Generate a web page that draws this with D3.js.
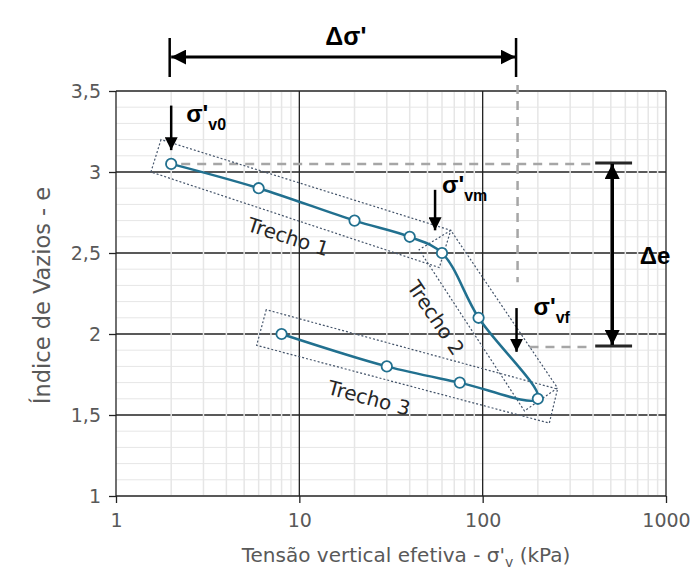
<!DOCTYPE html>
<html>
<head>
<meta charset="utf-8">
<script src="https://cdn.jsdelivr.net/npm/d3@7"></script>
<style>
  body { margin: 0; background: #fff; }
  text { font-family: "DejaVu Sans", Arial, sans-serif; }
  text.bold { font-family: "Liberation Sans", Arial, sans-serif; font-weight: bold; }
</style>
</head>
<body>
<div id="chart"></div>
<script>
// curve: sigma'v (kPa) and void ratio e, in loading / unloading order
var stress    = [2, 6, 20, 40, 60, 95, 200, 75, 30, 8];
var voidRatio = [3.05, 2.9, 2.7, 2.6, 2.5, 2.1, 1.6, 1.7, 1.8, 2.0];

var xTicks = [1, 10, 100, 1000];
var yTicks = [1, 1.5, 2, 2.5, 3, 3.5];

// dotted boxes around each stretch (data coordinates)
var trechoNames = ["Trecho 1", "Trecho 2", "Trecho 3"];
var trechoBoxes = [
  [[1.76, 3.2], [1.55, 3.0], [58, 2.41], [67, 2.64]],
  [[67, 2.64], [45, 2.52], [169, 1.525], [256, 1.667]],
  [[6.6, 2.15], [5.85, 1.93], [231, 1.45], [256, 1.66]]
];
var trechoCenters = [[8.7, 2.6], [55.5, 2.1], [24, 1.605]];
var trechoAngles = [18, 56, 15];

// key stresses / void ratios
var sigmaV0 = 2, sigmaVm = 55, sigmaVf = 153;
var eTop = 3.05, eBottom = 1.92;

var width = 699, height = 574;
var margin = {top: 91, right: 33, bottom: 78, left: 116};

var svg = d3.select("#chart").append("svg")
  .attr("width", width)
  .attr("height", height);

var x = d3.scaleLog().domain([1, 1000]).range([margin.left, width - margin.right]);
var y = d3.scaleLinear().domain([1, 3.5]).range([height - margin.bottom, margin.top]);

var defs = svg.append("defs");
function addMarker(id, size) {
  defs.append("marker")
    .attr("id", id)
    .attr("viewBox", "0 0 10 10")
    .attr("refX", 10).attr("refY", 5)
    .attr("markerUnits", "userSpaceOnUse")
    .attr("markerWidth", size).attr("markerHeight", size)
    .attr("orient", "auto-start-reverse")
    .append("path")
    .attr("d", "M0,0L10,5L0,10z")
    .attr("fill", "#000");
}
addMarker("headS", 13);
addMarker("headL", 15);

/* grid */
var minorX = [];
[1, 10, 100].forEach(function(d) {
  for (var k = 2; k <= 9; k++) minorX.push(d * k);
});
var minorY = d3.range(1.1, 3.5, 0.1).filter(function(v) {
  return Math.abs(v * 2 - Math.round(v * 2)) > 0.01;
});

var grid = svg.append("g");
grid.selectAll(".hmin").data(minorY).enter().append("line")
  .attr("x1", x(1)).attr("x2", x(1000))
  .attr("y1", d => y(d)).attr("y2", d => y(d))
  .attr("stroke", "#e6e6e6").attr("stroke-width", 1);
grid.selectAll(".hmaj").data(yTicks).enter().append("line")
  .attr("x1", x(1)).attr("x2", x(1000))
  .attr("y1", d => y(d)).attr("y2", d => y(d))
  .attr("stroke", "#222").attr("stroke-width", 1.3);
grid.selectAll(".vmin").data(minorX).enter().append("line")
  .attr("x1", d => x(d)).attr("x2", d => x(d))
  .attr("y1", y(1) - 1).attr("y2", y(3.5) + 1)
  .attr("stroke", "#e6e6e6").attr("stroke-width", 1.5);
grid.selectAll(".vmaj").data(xTicks).enter().append("line")
  .attr("x1", d => x(d)).attr("x2", d => x(d))
  .attr("y1", y(1)).attr("y2", y(3.5))
  .attr("stroke", "#222").attr("stroke-width", 1.3);

/* axes */
var xAxis = d3.axisBottom(x).tickValues(xTicks).tickFormat(d3.format("d")).tickSize(7).tickPadding(11);
var yAxis = d3.axisLeft(y).tickValues(yTicks)
  .tickFormat(d => String(d).replace(".", ",")).tickSize(7).tickPadding(8);

var gx = svg.append("g").attr("transform", `translate(0, ${y(1)})`).call(xAxis);
var gy = svg.append("g").attr("transform", `translate(${x(1)}, 0)`).call(yAxis);
[gx, gy].forEach(function(g) {
  g.select(".domain").remove();
  g.selectAll(".tick line").attr("stroke", "#222").attr("stroke-width", 1.3);
  g.selectAll(".tick text")
    .attr("fill", "#595959")
    .style("font-family", "'DejaVu Sans', sans-serif")
    .style("font-size", "19px");
});

svg.append("text")
  .attr("transform", `translate(42, ${(y(1) + y(3.5)) / 2 + 2}) rotate(-90)`)
  .attr("text-anchor", "middle")
  .attr("dominant-baseline", "central")
  .attr("fill", "#595959")
  .style("font-size", "22.5px")
  .text("Índice de Vazios - e");

var xt = svg.append("text")
  .attr("x", (x(1) + x(1000)) / 2 + 15)
  .attr("y", 562)
  .attr("text-anchor", "middle")
  .attr("fill", "#595959")
  .style("font-size", "20px");
xt.append("tspan").text("Tensão vertical efetiva - σ'");
xt.append("tspan").attr("dy", 5).style("font-size", "14px").text("v");
xt.append("tspan").attr("dy", -5).text(" (kPa)");

/* grey dashed reference lines */
var dash = svg.append("g")
  .attr("stroke", "#a6a6a6").attr("stroke-width", 2.5)
  .attr("stroke-dasharray", "9,7").attr("fill", "none");
dash.append("line")
  .attr("x1", x(sigmaV0) + 10).attr("x2", x(400))
  .attr("y1", y(eTop)).attr("y2", y(eTop));
dash.append("line")
  .attr("x1", x(sigmaVf + 2)).attr("x2", x(sigmaVf + 2))
  .attr("y1", margin.top - 6).attr("y2", y(2.32));
dash.append("line")
  .attr("x1", x(180)).attr("x2", x(400))
  .attr("y1", y(eBottom)).attr("y2", y(eBottom));

/* dotted boxes */
svg.append("g").selectAll("path").data(trechoBoxes).enter().append("path")
  .attr("d", b => "M" + b.map(p => x(p[0]) + "," + y(p[1])).join("L") + "Z")
  .attr("fill", "none")
  .attr("stroke", "#44546a")
  .attr("stroke-width", 1.2)
  .attr("stroke-dasharray", "2,2");

svg.append("g").selectAll("text").data(trechoNames).enter().append("text")
  .attr("transform", (d, i) => `translate(${x(trechoCenters[i][0])}, ${y(trechoCenters[i][1])}) rotate(${trechoAngles[i]})`)
  .attr("text-anchor", "middle")
  .attr("dominant-baseline", "central")
  .attr("fill", "#262626")
  .style("font-size", "20px")
  .text(d => d);

/* curve */
var points = stress.map((s, i) => ({s: s, e: voidRatio[i]}));
var line = d3.line()
  .x(d => x(d.s))
  .y(d => y(d.e))
  .curve(d3.curveCatmullRom);

svg.append("path")
  .datum(points)
  .attr("d", line)
  .attr("fill", "none")
  .attr("stroke", "#21708f")
  .attr("stroke-width", 2.5);

svg.append("g").selectAll("circle").data(points).enter().append("circle")
  .attr("cx", d => x(d.s))
  .attr("cy", d => y(d.e))
  .attr("r", 5.2)
  .attr("fill", "#fff")
  .attr("stroke", "#21708f")
  .attr("stroke-width", 1.8);

/* stress arrows with labels */
var stressMarks = [
  {s: sigmaV0, top: 3.41, tip: 3.135, sub: "v0", dx: 15, ty: 122},
  {s: sigmaVm, top: 2.89, tip: 2.64, sub: "vm", dx: 7, ty: 193},
  {s: sigmaVf, top: 2.16, tip: 1.89, sub: "vf", dx: 17, ty: 315}
];
stressMarks.forEach(function(m) {
  svg.append("line")
    .attr("x1", x(m.s)).attr("x2", x(m.s))
    .attr("y1", y(m.top)).attr("y2", y(m.tip))
    .attr("stroke", "#000").attr("stroke-width", 2.5)
    .attr("marker-end", "url(#headS)");
  var t = svg.append("text")
    .attr("class", "bold")
    .attr("x", x(m.s) + m.dx).attr("y", m.ty)
    .attr("fill", "#000")
    .style("font-size", "24px");
  t.append("tspan").text("σ'");
  t.append("tspan").attr("dy", 8).style("font-size", "16px").text(m.sub);
});

/* delta sigma bracket above the plot */
var dsY = 57;
[sigmaV0, sigmaVf + 2].forEach(function(s) {
  svg.append("line")
    .attr("x1", x(s) - 1.5).attr("x2", x(s) - 1.5)
    .attr("y1", 38).attr("y2", 77)
    .attr("stroke", "#000").attr("stroke-width", 2.5);
});
svg.append("line")
  .attr("x1", x(sigmaV0)).attr("x2", x(sigmaVf + 2) - 2)
  .attr("y1", dsY).attr("y2", dsY)
  .attr("stroke", "#000").attr("stroke-width", 3)
  .attr("marker-start", "url(#headL)")
  .attr("marker-end", "url(#headL)");
svg.append("text")
  .attr("class", "bold")
  .attr("x", (x(sigmaV0) + x(sigmaVf)) / 2 + 2)
  .attr("y", 45)
  .attr("text-anchor", "middle")
  .style("font-size", "25px")
  .text("Δσ'");

/* delta e bracket on the right */
var deX = x(509);
[eTop, eBottom].forEach(function(e) {
  svg.append("line")
    .attr("x1", x(411)).attr("x2", x(653))
    .attr("y1", y(e) - 1).attr("y2", y(e) - 1)
    .attr("stroke", "#262626").attr("stroke-width", 3);
});
svg.append("line")
  .attr("x1", deX).attr("x2", deX)
  .attr("y1", y(eTop)).attr("y2", y(eBottom) - 2)
  .attr("stroke", "#000").attr("stroke-width", 3.5)
  .attr("marker-start", "url(#headL)")
  .attr("marker-end", "url(#headL)");
svg.append("text")
  .attr("class", "bold")
  .attr("x", 655)
  .attr("y", 264)
  .attr("text-anchor", "middle")
  .style("font-size", "24px")
  .text("Δe");
</script>
</body>
</html>
